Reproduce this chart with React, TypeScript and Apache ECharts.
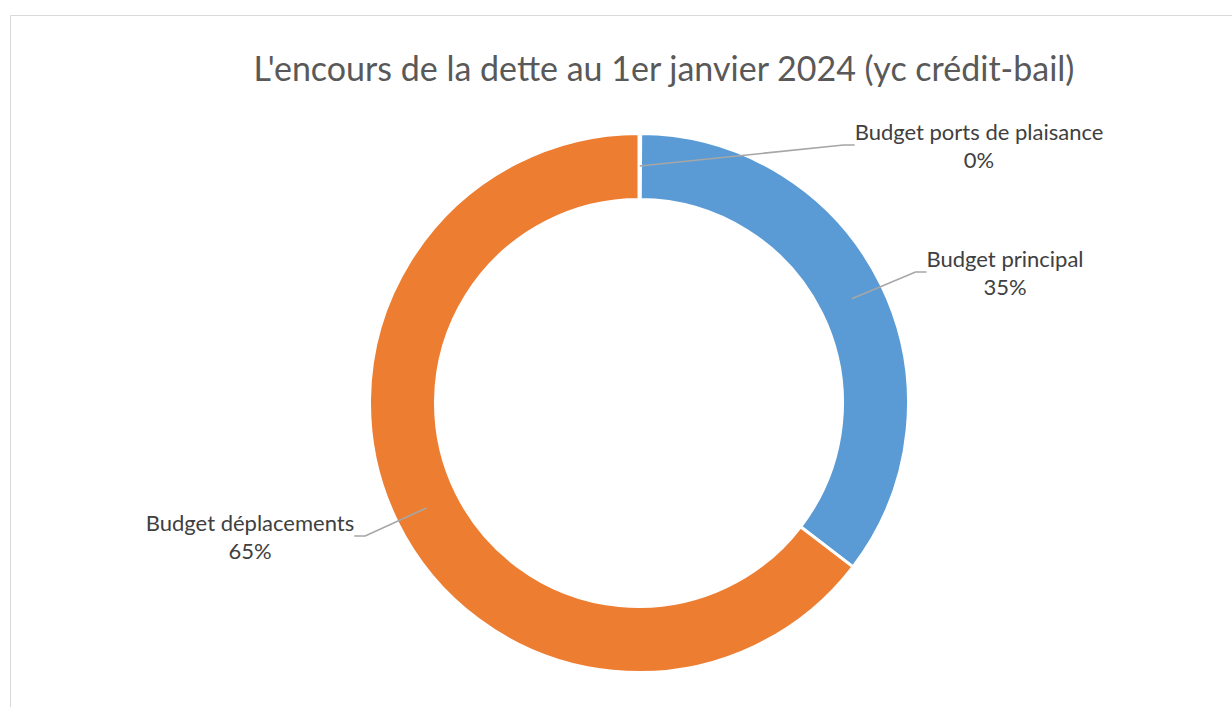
import React, { useEffect, useRef } from "react";
import * as echarts from "echarts";

const titleText = "L'encours de la dette au 1er janvier 2024 (yc crédit-bail)";
const categories = ["Budget ports de plaisance", "Budget principal", "Budget déplacements"];
const values = [0.1, 35.3, 64.6];
const colors = ["#A5A5A5", "#5B9BD5", "#ED7D31"];

// label block centres (layout only)
const labelCenters: number[][] = [
  [979, 145],
  [1005, 272],
  [250, 536],
];

const FONT = "Lato, 'Open Sans', sans-serif";

export default function App() {
  const ref = useRef<HTMLDivElement>(null);
  useEffect(() => {
    if (!ref.current) return;
    const chart = echarts.init(ref.current, null, { renderer: "svg" });
    const data = categories.map((name, i) => ({
      name,
      value: values[i],
      itemStyle: { color: colors[i] },
    }));
    chart.setOption({
      animation: false,
      backgroundColor: "#ffffff",
      title: {
        text: titleText,
        left: 659,
        textAlign: "center",
        top: 45,
        textStyle: { fontFamily: FONT, fontSize: 34, fontWeight: "normal", color: "#595959" },
      },
      graphic: [
        {
          type: "rect",
          z: -10,
          silent: true,
          shape: { x: 10.5, y: 15.5, width: 1400, height: 1000 },
          style: { fill: "none", stroke: "#D9D9D9", lineWidth: 1 },
        },
      ],
      series: [
        {
          type: "pie",
          name: "ring",
          center: [639, 403],
          radius: [203.5, 269.5],
          startAngle: 90,
          clockwise: true,
          silent: true,
          data,
          itemStyle: { borderColor: "#ffffff", borderWidth: 3 },
          label: { show: false },
          labelLine: { show: false },
          z: 2,
        },
        {
          type: "pie",
          name: "labels",
          center: [639, 403],
          radius: [0, 237],
          startAngle: 90,
          clockwise: true,
          silent: true,
          avoidLabelOverlap: false,
          z: 3,
          data: categories.map((name, i) => ({ name, value: values[i] })),
          itemStyle: { color: "rgba(0,0,0,0)", borderWidth: 0 },
          label: {
            show: true,
            position: "outside",
            fontFamily: FONT,
            fontSize: 22,
            lineHeight: 28,
            color: "#404040",
            formatter: (p: any) => `${p.name}\n${Math.round(p.percent)}%`,
          },
          labelLine: {
            show: true,
            length: 40,
            length2: 11,
            smooth: false,
            lineStyle: { color: "#A6A6A6", width: 1.6 },
          },
          labelLayout: (params: any) => {
            const c = labelCenters[params.dataIndex];
            return { x: c[0], y: c[1], align: "center", verticalAlign: "middle" };
          },
        },
      ],
    });
    return () => chart.dispose();
  }, []);
  return (
    <div
      ref={ref}
      style={{ position: "absolute", left: 0, top: 0, width: 1232, height: 707, background: "#fff" }}
    />
  );
}
